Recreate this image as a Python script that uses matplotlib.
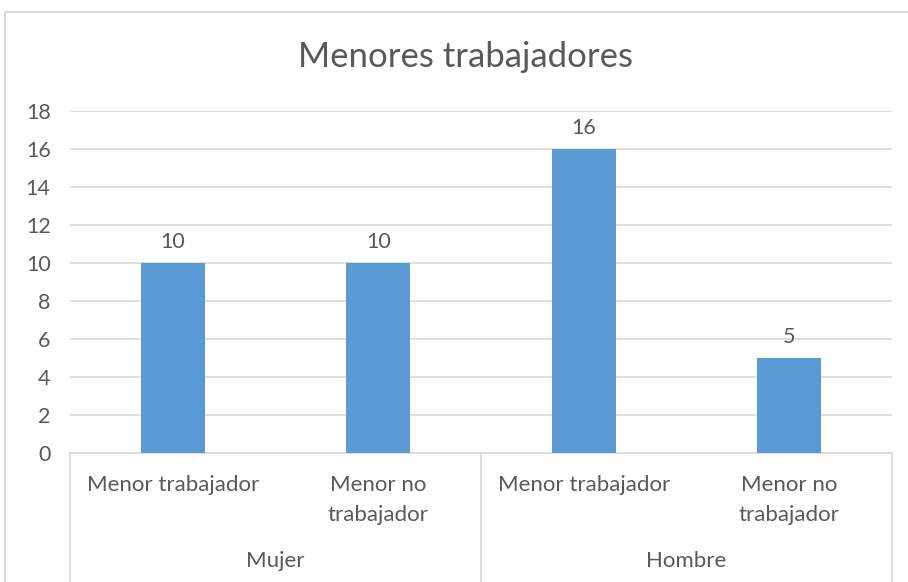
import matplotlib.pyplot as plt
from matplotlib.lines import Line2D
import numpy as np

# chart data
title = "Menores trabajadores"
sub_labels = ["Menor trabajador", "Menor no\ntrabajador", "Menor trabajador", "Menor no\ntrabajador"]
groups = ["Mujer", "Hombre"]
values = [10, 10, 16, 5]
y_ticks = [0, 2, 4, 6, 8, 10, 12, 14, 16, 18]

W, H = 908, 582
text_color = "#595959"
grid_color = "#D9D9D9"
bar_color = "#5B9BD5"

plt.rcParams['font.family'] = ['Lato', 'DejaVu Sans']

fig = plt.figure(figsize=(W / 100, H / 100), dpi=100)

# plot area in pixels
left, right, top, bottom = 70, 892, 111, 453
ax = fig.add_axes([left / W, 1 - bottom / H, (right - left) / W, (bottom - top) / H])

x = np.arange(len(values))
ax.bar(x, values, width=0.31, color=bar_color, zorder=3)
ax.set_xlim(-0.5, len(values) - 0.5)
ax.set_ylim(0, 18)
ax.set_yticks(y_ticks)
ax.set_yticklabels([str(t) for t in y_ticks])
ax.tick_params(axis='y', length=0, pad=14, labelsize=15.5, labelcolor=text_color)
ax.set_xticks([])
ax.yaxis.grid(True, color=grid_color, linewidth=1.2, zorder=0)
for s in ['top', 'right', 'left']:
    ax.spines[s].set_visible(False)
ax.spines['bottom'].set_color(grid_color)
ax.spines['bottom'].set_linewidth(1.2)

# value labels
for xi, v in zip(x, values):
    ax.annotate(str(v), (xi, v), xytext=(0, 8), textcoords='offset points',
                ha='center', va='bottom', fontsize=15.5, color=text_color)

def fy(py):
    return 1 - py / H

# category labels under the axis
for xi, lab in zip(x, sub_labels):
    fx = (left + (xi + 0.5) * (right - left) / len(values)) / W
    parts = lab.split("\n")
    fig.text(fx, fy(485), parts[0], ha='center', va='center', fontsize=16, color=text_color)
    if len(parts) > 1:
        fig.text(fx, fy(515), parts[1], ha='center', va='center', fontsize=16, color=text_color)

for gi, g in enumerate(groups):
    fx = (left + (gi + 0.5) * (right - left) / len(groups)) / W
    fig.text(fx, fy(561), g, ha='center', va='center', fontsize=16, color=text_color)

# group separators
for gi in range(len(groups) + 1):
    px = left + gi * (right - left) / len(groups)
    fig.add_artist(Line2D([px / W, px / W], [fy(bottom), 0], color=grid_color, linewidth=1.2))

# chart border (left and top only visible)
fig.add_artist(Line2D([4.5 / W, 4.5 / W, 1], [0, fy(12), fy(12)], color=grid_color, linewidth=1.5))

fig.text(466 / W, fy(57), title, ha='center', va='center', fontsize=25, color=text_color)

fig.savefig("out.png", dpi=100)
